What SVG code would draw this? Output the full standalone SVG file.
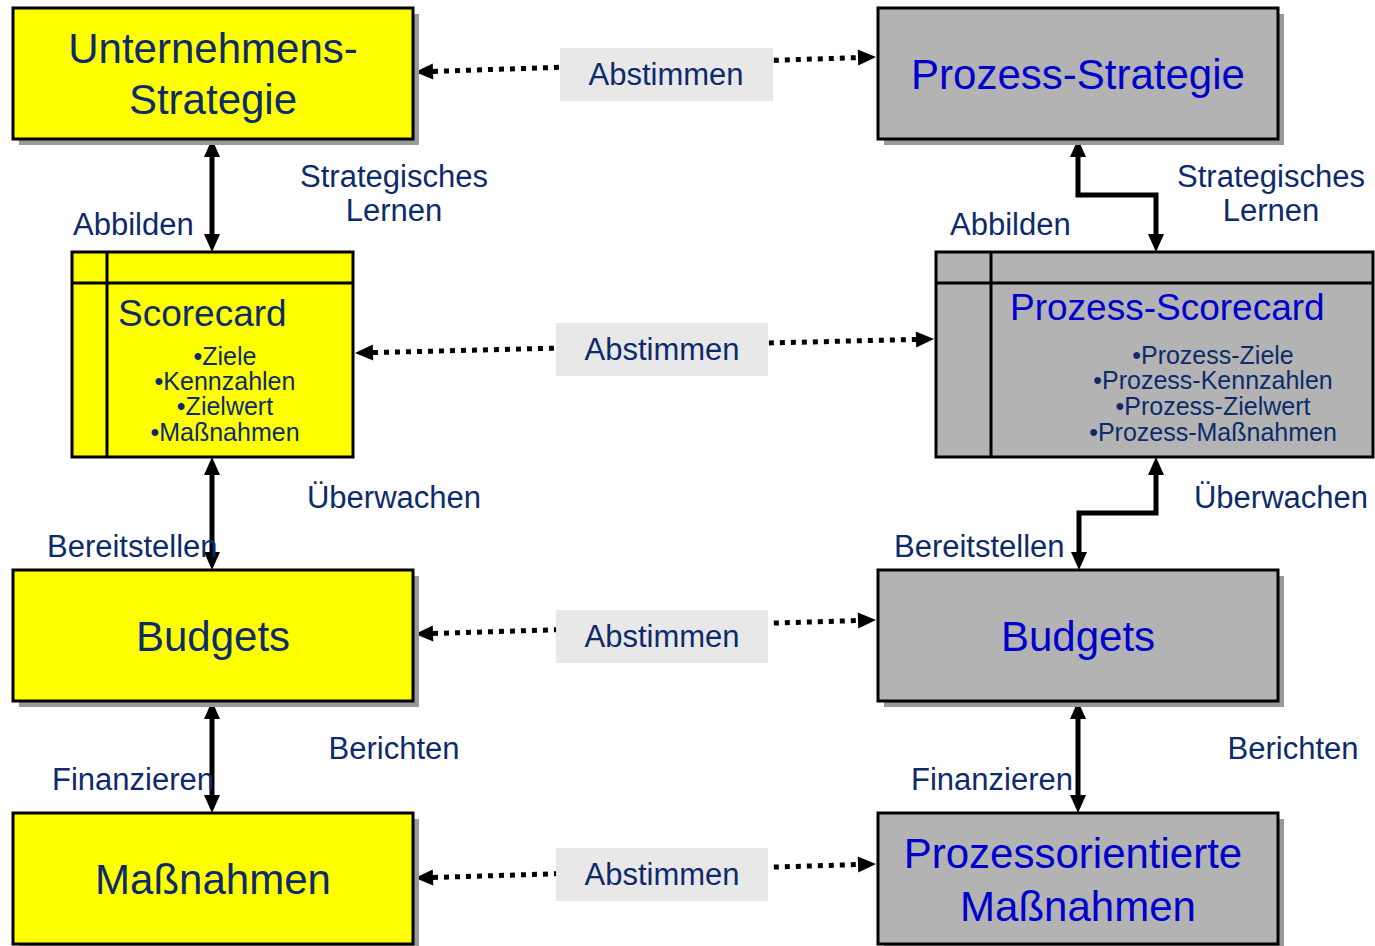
<svg xmlns="http://www.w3.org/2000/svg" width="1375" height="946" viewBox="0 0 1375 946">
<style>
text{font-family:"Liberation Sans",Arial,sans-serif}
.box{stroke:#000;stroke-width:3}
.y{fill:#ffff00}
.g{fill:#b3b3b3}
.sh{fill:#999999}
.big{font-size:42px;text-anchor:middle}
.sc{font-size:37px}
.bul{font-size:25px;text-anchor:middle;fill:#0d2b6b}
.nv{fill:#0d2b6b}
.bl{fill:#0000cc}
.lbl{font-size:31px;fill:#0d2b6b}
.mid{text-anchor:middle}
.solid{fill:none;stroke:#000;stroke-width:5;marker-start:url(#ah);marker-end:url(#ah)}
.dot{fill:none;stroke:#000;stroke-width:5;stroke-dasharray:5 6;marker-start:url(#dh);marker-end:url(#dh)}
.lb{fill:#e8e8e8}
</style>
<defs>
<marker id="ah" markerUnits="userSpaceOnUse" markerWidth="20" markerHeight="18" refX="0" refY="8" orient="auto-start-reverse" overflow="visible"><path d="M0,0 L18,8 L0,16 z" fill="#000"/></marker>
<marker id="dh" markerUnits="userSpaceOnUse" markerWidth="20" markerHeight="18" refX="0" refY="8" orient="auto-start-reverse" overflow="visible"><path d="M0,0 L18,8 L0,16 z" fill="#000"/></marker>
</defs>
<rect width="1375" height="946" fill="#fff"/>

<g id="connectors">
<path class="solid" d="M212,157 L212,234"/>
<path class="solid" d="M1078,157 L1078,195 L1156,195 L1156,234"/>
<path class="solid" d="M212,475 L212,552"/>
<path class="solid" d="M1156,475 L1156,513 L1079,513 L1079,552"/>
<path class="solid" d="M212,719 L212,795"/>
<path class="solid" d="M1078,719 L1078,795"/>
<path class="dot" d="M433,71.4 L858,57.6"/>
<path class="dot" d="M373,352.6 L916,339.4"/>
<path class="dot" d="M433,633.5 L858,620.5"/>
<path class="dot" d="M433,877.5 L858,864.5"/>
<rect class="lb" x="560" y="48" width="213" height="53"/>
<text class="lbl mid" x="666" y="85">Abstimmen</text>
<rect class="lb" x="556" y="323" width="212" height="53"/>
<text class="lbl mid" x="662" y="360">Abstimmen</text>
<rect class="lb" x="556" y="610" width="212" height="53"/>
<text class="lbl mid" x="662" y="647">Abstimmen</text>
<rect class="lb" x="556" y="848" width="212" height="53"/>
<text class="lbl mid" x="662" y="885">Abstimmen</text>
<text class="lbl mid" x="394" y="187">Strategisches</text>
<text class="lbl mid" x="394" y="221">Lernen</text>
<text class="lbl mid" x="1271" y="187">Strategisches</text>
<text class="lbl mid" x="1271" y="221">Lernen</text>
<text class="lbl" x="73" y="235">Abbilden</text>
<text class="lbl" x="950" y="235">Abbilden</text>
<text class="lbl mid" x="394" y="508">Überwachen</text>
<text class="lbl mid" x="1281" y="508">Überwachen</text>
<text class="lbl" x="47" y="557">Bereitstellen</text>
<text class="lbl" x="894" y="557">Bereitstellen</text>
<text class="lbl mid" x="394" y="759">Berichten</text>
<text class="lbl mid" x="1293" y="759">Berichten</text>
<text class="lbl" x="52" y="790">Finanzieren</text>
<text class="lbl" x="911" y="790">Finanzieren</text>
</g>

<g id="unternehmens-strategie">
<rect class="sh" x="19" y="14" width="400" height="131"/>
<rect class="box y" x="13" y="8" width="400" height="131"/>
<text class="big nv" x="213" y="63">Unternehmens-</text>
<text class="big nv" x="213" y="114">Strategie</text>
</g>

<g id="prozess-strategie">
<rect class="sh" x="884" y="14" width="400" height="131"/>
<rect class="box g" x="878" y="8" width="400" height="131"/>
<text class="big bl" x="1078" y="89">Prozess-Strategie</text>
</g>

<g id="scorecard">
<rect class="box y" x="72" y="252" width="281" height="205"/>
<line x1="72" y1="283" x2="353" y2="283" stroke="#000" stroke-width="3"/>
<line x1="107" y1="252" x2="107" y2="457" stroke="#000" stroke-width="3"/>
<text class="sc nv" x="118" y="326">Scorecard</text>
<text class="bul" x="225" y="365">•Ziele</text>
<text class="bul" x="225" y="390">•Kennzahlen</text>
<text class="bul" x="225" y="415">•Zielwert</text>
<text class="bul" x="225" y="441">•Maßnahmen</text>
</g>

<g id="prozess-scorecard">
<rect class="box g" x="936" y="252" width="437" height="205"/>
<line x1="936" y1="283" x2="1373" y2="283" stroke="#000" stroke-width="3"/>
<line x1="991" y1="252" x2="991" y2="457" stroke="#000" stroke-width="3"/>
<text class="sc bl" x="1010" y="320">Prozess-Scorecard</text>
<text class="bul" x="1213" y="364">•Prozess-Ziele</text>
<text class="bul" x="1213" y="389">•Prozess-Kennzahlen</text>
<text class="bul" x="1213" y="415">•Prozess-Zielwert</text>
<text class="bul" x="1213" y="441">•Prozess-Maßnahmen</text>
</g>

<g id="budgets-left">
<rect class="sh" x="19" y="576" width="400" height="131"/>
<rect class="box y" x="13" y="570" width="400" height="131"/>
<text class="big nv" x="213" y="651">Budgets</text>
</g>

<g id="budgets-right">
<rect class="sh" x="884" y="576" width="400" height="131"/>
<rect class="box g" x="878" y="570" width="400" height="131"/>
<text class="big bl" x="1078" y="651">Budgets</text>
</g>

<g id="massnahmen">
<rect class="sh" x="19" y="819" width="400" height="131"/>
<rect class="box y" x="13" y="813" width="400" height="131"/>
<text class="big nv" x="213" y="894">Maßnahmen</text>
</g>

<g id="prozessorientierte-massnahmen">
<rect class="sh" x="884" y="819" width="400" height="131"/>
<rect class="box g" x="878" y="813" width="400" height="131"/>
<text class="big bl" x="1073" y="868">Prozessorientierte</text>
<text class="big bl" x="1078" y="921">Maßnahmen</text>
</g>
</svg>
